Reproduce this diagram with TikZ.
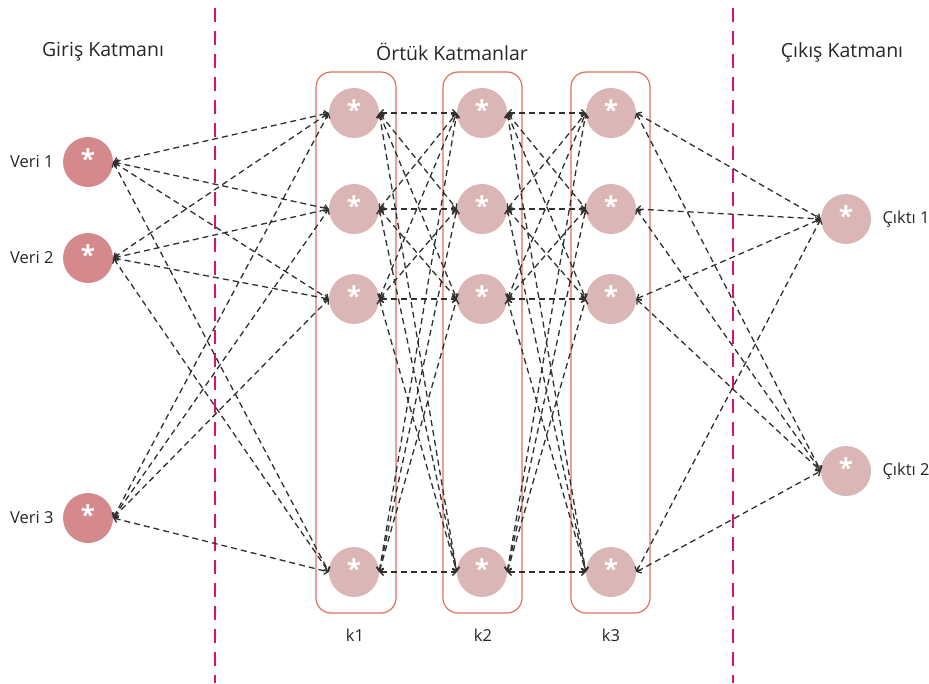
\documentclass[tikz,border=0pt]{standalone}
\usepackage{fontspec}
\setmainfont{Open Sans}
\usetikzlibrary{arrows.meta}
\definecolor{inputfill}{HTML}{D48A8D}
\definecolor{hiddenfill}{HTML}{DAB6B6}
\definecolor{boxline}{HTML}{E0705A}
\definecolor{divider}{HTML}{D6146A}
\definecolor{wire}{HTML}{303030}
\newcommand{\neuronmark}{\smash{\raisebox{-6pt}{*}}}
\tikzset{
  neuron/.style={circle, minimum size=50pt, inner sep=0pt, font=\bfseries\fontsize{26}{26}\selectfont, text=white},
  innode/.style={neuron, fill=inputfill},
  hidnode/.style={neuron, fill=hiddenfill},
  layerbox/.style={draw=boxline, line width=1.2pt, rounded corners=15pt},
  wirelink/.style={draw=wire, line width=1.3pt, dash pattern=on 6pt off 4pt,
    {Straight Barb[length=3.5pt,width=7pt]}-{Straight Barb[length=3.5pt,width=7pt]}},
  sepline/.style={draw=divider, line width=2.8pt, dash pattern=on 14pt off 9pt},
  title/.style={font=\fontsize{19.5}{22}\selectfont, text=black!85},
  lbl/.style={font=\fontsize{16.5}{19}\selectfont, text=black!85},
}
\begin{document}
\begin{tikzpicture}[x=1pt, y=-1pt]
\useasboundingbox (0,0) rectangle (929,683);

% layer separators
\draw[sepline] (215,8) -- (215,683);
\draw[sepline] (733,8) -- (733,683);

% titles
\node[title] (tin) at (103,52) {Giriş Katmanı};
\node[title] (thid) at (452,52) {Örtük Katmanlar};
\node[title] (tout) at (842,52) {Çıkış Katmanı};

% hidden layer frames
\draw[layerbox] (316,72) rectangle (396,613);
\draw[layerbox] (443,72) rectangle (522,613);
\draw[layerbox] (571,72) rectangle (650,613);
\node[lbl] (k1) at (355,635) {k1};
\node[lbl] (k2) at (483,635) {k2};
\node[lbl] (k3) at (611,635) {k3};

% input neurons
\node[innode] (in1) at (88,162) {\neuronmark};
\node[innode] (in2) at (88,258) {\neuronmark};
\node[innode] (in3) at (88,518) {\neuronmark};
\node[lbl, anchor=east] (lin1) at (57,162) {Veri 1};
\node[lbl, anchor=east] (lin2) at (57,258) {Veri 2};
\node[lbl, anchor=east] (lin3) at (57,518) {Veri 3};

% hidden neurons
\foreach \c/\x in {a/354, b/482, c/611}{
  \foreach \i/\y in {1/113, 2/209, 3/299, 4/572}{
    \node[hidnode] (\c\i) at (\x,\y) {\neuronmark};
  }
}

% output neurons
\node[hidnode] (o1) at (846,219) {\neuronmark};
\node[hidnode] (o2) at (846,471) {\neuronmark};
\node[lbl, anchor=west] (lo1) at (879,219) {Çıktı 1};
\node[lbl, anchor=west] (lo2) at (879,471) {Çıktı 2};

% connections
\foreach \i in {1,2,3}{
  \foreach \j in {1,2,3,4}{
    \draw[wirelink] (in\i.east) -- (a\j.west);
  }
}
\foreach \i in {1,2,3,4}{
  \foreach \j in {1,2,3,4}{
    \draw[wirelink] (a\i.east) -- (b\j.west);
    \draw[wirelink] (b\i.east) -- (c\j.west);
  }
}
\foreach \i in {1,2,3,4}{
  \foreach \j in {1,2}{
    \draw[wirelink] (c\i.east) -- (o\j.west);
  }
}
\end{tikzpicture}
\end{document}
